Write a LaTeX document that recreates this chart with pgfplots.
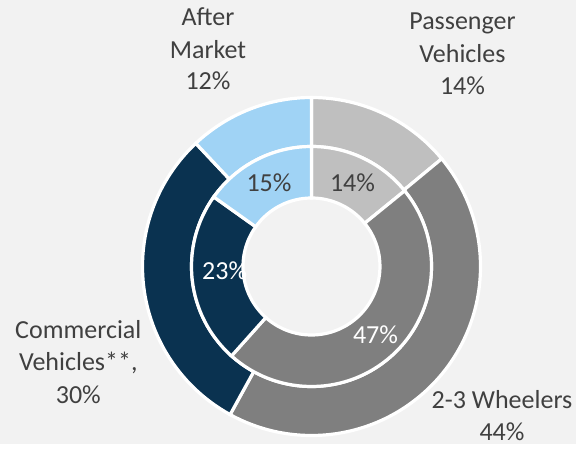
\documentclass[border=0pt]{standalone}
\usepackage{pgfplots}
\usepackage{pgfplotstable}
\pgfplotsset{compat=1.18}
\usepackage{fontspec}
\setmainfont{Carlito}

\definecolor{bgc}{HTML}{F2F2F2}
\definecolor{ctext}{HTML}{404040}
\definecolor{cpass}{HTML}{BFBFBF}
\definecolor{cwheel}{HTML}{7F7F7F}
\definecolor{ccomm}{HTML}{0A3250}
\definecolor{cafter}{HTML}{A0D3F5}

% outer ring: segment shares (%)
\pgfplotstableread{
share col
14 cpass
44 cwheel
30 ccomm
12 cafter
}\outerdata
% inner ring (rounded shares add up to 99, so angles are normalised)
\pgfplotstableread{
share col
14 cpass
47 cwheel
23 ccomm
15 cafter
}\innerdata

\def\cx{311.5}
\def\cy{177.5}
\newcommand\lbl{\fontsize{26}{31}\selectfont}

% #1 inner radius, #2 outer radius, #3 start angle, #4 end angle, #5 colour
\newcommand\sector[5]{%
  \pgfmathsetmacro\xa{\cx+#2*cos(#3)}%
  \pgfmathsetmacro\ya{\cy+#2*sin(#3)}%
  \pgfmathsetmacro\xb{\cx+#1*cos(#4)}%
  \pgfmathsetmacro\yb{\cy+#1*sin(#4)}%
  \edef\temp{\noexpand\fill[#5, draw=white, line width=3.2pt]
    (axis cs:\xa,\ya) arc[start angle=#3, end angle=#4, radius=#2pt]
    -- (axis cs:\xb,\yb) arc[start angle=#4, end angle=#3, radius=#1pt] -- cycle;}%
  \temp}

% clockwise from the top
\newcommand\ring[3]{%
  \pgfplotstablegetrowsof{#1}%
  \pgfmathtruncatemacro\nr{\pgfplotsretval-1}%
  \def\total{0}%
  \pgfplotsforeachungrouped \i in {0,...,\nr}{%
    \pgfplotstablegetelem{\i}{share}\of#1%
    \pgfmathsetmacro\total{\total+\pgfplotsretval}}%
  \def\curang{90}%
  \pgfplotsforeachungrouped \i in {0,...,\nr}{%
    \pgfplotstablegetelem{\i}{share}\of#1\let\segshare\pgfplotsretval
    \pgfplotstablegetelem{\i}{col}\of#1\let\segcol\pgfplotsretval
    \pgfmathsetmacro\frac{\segshare/\total}%
    \pgfmathsetmacro\nxtang{\curang-360*\frac}%
    \sector{#2}{#3}{\curang}{\nxtang}{\segcol}%
    \let\curang\nxtang}}

\begin{document}
\begin{tikzpicture}
\begin{axis}[
    width=576pt, height=444pt,
    scale only axis,
    xmin=0, xmax=576, ymin=0, ymax=444,
    hide axis,
    clip=false,
]
\fill[bgc] (axis cs:0,0) rectangle (axis cs:576,444);
\ring{\outerdata}{120}{169}
\ring{\innerdata}{68.5}{120}

% outer labels
\node[anchor=base, font=\lbl, text=ctext] at (axis cs:208,418) {After};
\node[anchor=base, font=\lbl, text=ctext] at (axis cs:208,385.7) {Market};
\node[anchor=base, font=\lbl, text=ctext] at (axis cs:208,354) {12\%};
\node[anchor=base, font=\lbl, text=ctext] at (axis cs:462.5,414) {Passenger};
\node[anchor=base, font=\lbl, text=ctext] at (axis cs:462.5,381.5) {Vehicles};
\node[anchor=base, font=\lbl, text=ctext] at (axis cs:462.5,349) {14\%};
\node[anchor=base, font=\lbl, text=ctext] at (axis cs:78.3,105.5) {Commercial};
\node[anchor=base, font=\lbl, text=ctext] at (axis cs:78.3,73) {Vehicles**,};
\node[anchor=base, font=\lbl, text=ctext] at (axis cs:78.3,40) {30\%};
\node[anchor=base, font=\lbl, text=ctext] at (axis cs:502,35.5) {2-3 Wheelers};
\node[anchor=base, font=\lbl, text=ctext] at (axis cs:502,3) {44\%};

% inner labels
\node[anchor=base, font=\lbl, text=ctext] at (axis cs:352.5,252.3) {14\%};
\node[anchor=base, font=\lbl, text=ctext] at (axis cs:269,252.3) {15\%};
\node[anchor=base, font=\lbl, text=white] at (axis cs:224.7,164) {23\%};
\node[anchor=base, font=\lbl, text=white] at (axis cs:375.5,100) {47\%};
\end{axis}
\end{tikzpicture}
\end{document}
